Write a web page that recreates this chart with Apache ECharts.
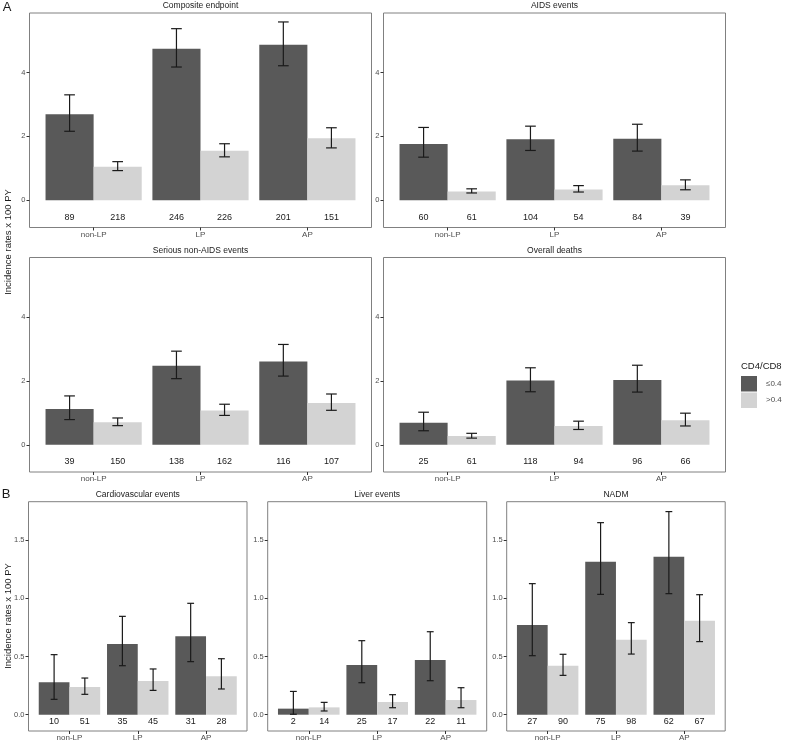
<!DOCTYPE html>
<html><head><meta charset="utf-8">
<script src="https://cdn.jsdelivr.net/npm/echarts@6/dist/echarts.min.js"></script>
<style>html,body{margin:0;padding:0;background:#fff}#c{width:786px;height:742px}</style>
</head><body><div id="c"></div>
<script>
// ---------- data ----------
const categories = ['non-LP', 'LP', 'AP'];
const groupNames = ['≤0.4', '>0.4'];
const yTicksA = [0, 2, 4];
const yTicksB = [0, 0.5, 1.0, 1.5];

// Panel A
const compositeLow = [2.69, 4.74, 4.87];
const compositeLowCI = [[2.16, 3.30], [4.17, 5.37], [4.21, 5.58]];
const compositeHigh = [1.05, 1.55, 1.94];
const compositeHighCI = [[0.93, 1.21], [1.36, 1.77], [1.64, 2.27]];
const compositeLowN = [89, 246, 201];
const compositeHighN = [218, 226, 151];

const aidsLow = [1.76, 1.91, 1.93];
const aidsLowCI = [[1.35, 2.28], [1.56, 2.32], [1.54, 2.38]];
const aidsHigh = [0.28, 0.34, 0.47];
const aidsHighCI = [[0.23, 0.36], [0.26, 0.46], [0.33, 0.64]];
const aidsLowN = [60, 104, 84];
const aidsHighN = [61, 54, 39];

const snaeLow = [1.12, 2.47, 2.61];
const snaeLowCI = [[0.79, 1.53], [2.07, 2.93], [2.15, 3.14]];
const snaeHigh = [0.71, 1.07, 1.31];
const snaeHighCI = [[0.60, 0.84], [0.92, 1.27], [1.08, 1.59]];
const snaeLowN = [39, 138, 116];
const snaeHighN = [150, 162, 107];

const deathLow = [0.69, 2.01, 2.03];
const deathLowCI = [[0.44, 1.02], [1.66, 2.41], [1.65, 2.49]];
const deathHigh = [0.28, 0.59, 0.77];
const deathHighCI = [[0.21, 0.36], [0.48, 0.74], [0.59, 0.99]];
const deathLowN = [25, 118, 96];
const deathHighN = [61, 94, 66];

// Panel B
const cvLow = [0.278, 0.607, 0.673];
const cvLowCI = [[0.132, 0.516], [0.421, 0.845], [0.456, 0.957]];
const cvHigh = [0.238, 0.289, 0.330];
const cvHighCI = [[0.175, 0.315], [0.209, 0.393], [0.221, 0.481]];
const cvLowN = [10, 35, 31];
const cvHighN = [51, 45, 28];

const liverLow = [0.052, 0.427, 0.470];
const liverLowCI = [[0.004, 0.200], [0.275, 0.636], [0.292, 0.713]];
const liverHigh = [0.063, 0.109, 0.126];
const liverHighCI = [[0.032, 0.106], [0.060, 0.172], [0.060, 0.232]];
const liverLowN = [2, 25, 22];
const liverHighN = [14, 17, 11];

const nadmLow = [0.771, 1.315, 1.358];
const nadmLowCI = [[0.507, 1.126], [1.034, 1.650], [1.040, 1.745]];
const nadmHigh = [0.421, 0.645, 0.808];
const nadmHighCI = [[0.338, 0.519], [0.521, 0.791], [0.628, 1.031]];
const nadmLowN = [27, 75, 62];
const nadmHighN = [90, 98, 67];

// ---------- layout ----------
const FONT = '"Liberation Sans", Arial, sans-serif';
const DARK = '#595959', LIGHT = '#d3d3d3';
const rowA = { min: -0.85, max: 5.86, ticks: yTicksA, labelY: -0.53, fmt: v => String(v), countFs: 9 };
const rowB = { min: -0.14, max: 1.83, ticks: yTicksB, labelY: -0.06, fmt: v => v.toFixed(1), countFs: 9 };

const panels = [
  { title: 'Composite endpoint', row: rowA, box: [29.5, 13, 342, 214.5], low: compositeLow, lowCI: compositeLowCI, high: compositeHigh, highCI: compositeHighCI, lowN: compositeLowN, highN: compositeHighN },
  { title: 'AIDS events', row: rowA, box: [383.5, 13, 342, 214.5], low: aidsLow, lowCI: aidsLowCI, high: aidsHigh, highCI: aidsHighCI, lowN: aidsLowN, highN: aidsHighN },
  { title: 'Serious non-AIDS events', row: rowA, box: [29.5, 257.5, 342, 214.5], low: snaeLow, lowCI: snaeLowCI, high: snaeHigh, highCI: snaeHighCI, lowN: snaeLowN, highN: snaeHighN },
  { title: 'Overall deaths', row: rowA, box: [383.5, 257.5, 342, 214.5], low: deathLow, lowCI: deathLowCI, high: deathHigh, highCI: deathHighCI, lowN: deathLowN, highN: deathHighN },
  { title: 'Cardiovascular events', row: rowB, box: [28.5, 501.7, 218.5, 229.3], low: cvLow, lowCI: cvLowCI, high: cvHigh, highCI: cvHighCI, lowN: cvLowN, highN: cvHighN },
  { title: 'Liver events', row: rowB, box: [267.7, 501.7, 219, 229.3], low: liverLow, lowCI: liverLowCI, high: liverHigh, highCI: liverHighCI, lowN: liverLowN, highN: liverHighN },
  { title: 'NADM', row: rowB, box: [506.7, 501.7, 218.5, 229.3], low: nadmLow, lowCI: nadmLowCI, high: nadmHigh, highCI: nadmHighCI, lowN: nadmLowN, highN: nadmHighN }
];

const DODGE = 0.225, CAP = 0.05;

function errRender(off) {
  return function (params, api) {
    const x = api.value(0) + off;
    const lo = api.value(1), hi = api.value(2);
    const a = api.coord([x, hi]), b = api.coord([x, lo]);
    const l = api.coord([x - CAP, hi])[0], r = api.coord([x + CAP, hi])[0];
    const st = { stroke: '#1a1a1a', lineWidth: 1.2 };
    return { type: 'group', children: [
      { type: 'line', shape: { x1: a[0], y1: a[1], x2: b[0], y2: b[1] }, style: st },
      { type: 'line', shape: { x1: l, y1: a[1], x2: r, y2: a[1] }, style: st },
      { type: 'line', shape: { x1: l, y1: b[1], x2: r, y2: b[1] }, style: st }
    ] };
  };
}
function countRender(off, fs) {
  return function (params, api) {
    const p = api.coord([api.value(0) + off, api.value(1)]);
    return { type: 'text', x: p[0], y: p[1], style: { text: String(api.value(2)), textAlign: 'center', textVerticalAlign: 'middle', fontSize: fs, fill: '#1a1a1a', fontFamily: FONT } };
  };
}

const grid = [], xAxis = [], yAxis = [], series = [], graphic = [];
panels.forEach((p, i) => {
  const [l, t, w, h] = p.box;
  grid.push({ left: l, top: t, width: w, height: h, show: true, borderColor: '#808080', borderWidth: 1, backgroundColor: 'transparent' });
  xAxis.push({
    type: 'value', gridIndex: i, min: 0.4, max: 3.6,
    splitLine: { show: false }, axisLine: { show: false, onZero: false },
    axisTick: { show: true, length: 3, lineStyle: { color: '#333' }, customValues: [1, 2, 3] },
    axisLabel: { customValues: [1, 2, 3], formatter: v => categories[Math.round(v) - 1], fontSize: 8, color: '#4d4d4d', margin: 3, fontFamily: FONT }
  });
  yAxis.push({
    type: 'value', gridIndex: i, min: p.row.min, max: p.row.max,
    splitLine: { show: false }, axisLine: { show: false, onZero: false },
    axisTick: { show: true, length: 3, lineStyle: { color: '#333' }, customValues: p.row.ticks },
    axisLabel: { customValues: p.row.ticks, formatter: p.row.fmt, fontSize: 7.5, color: '#4d4d4d', margin: 4, fontFamily: FONT }
  });
  series.push({ type: 'bar', name: groupNames[0], xAxisIndex: i, yAxisIndex: i, barWidth: '45%', barGap: '0%',
    itemStyle: { color: DARK }, data: p.low.map((v, j) => [j + 1, v]) });
  series.push({ type: 'bar', name: groupNames[1], xAxisIndex: i, yAxisIndex: i, barWidth: '45%', barGap: '0%',
    itemStyle: { color: LIGHT }, data: p.high.map((v, j) => [j + 1, v]) });
  series.push({ type: 'custom', xAxisIndex: i, yAxisIndex: i, renderItem: errRender(-DODGE), encode: { x: 0, y: [1, 2] },
    data: p.lowCI.map((c, j) => [j + 1, c[0], c[1]]), z: 5 });
  series.push({ type: 'custom', xAxisIndex: i, yAxisIndex: i, renderItem: errRender(DODGE), encode: { x: 0, y: [1, 2] },
    data: p.highCI.map((c, j) => [j + 1, c[0], c[1]]), z: 5 });
  series.push({ type: 'custom', xAxisIndex: i, yAxisIndex: i, renderItem: countRender(-DODGE, p.row.countFs), encode: { x: 0, y: 1 },
    data: p.lowN.map((n, j) => [j + 1, p.row.labelY, n]), z: 5 });
  series.push({ type: 'custom', xAxisIndex: i, yAxisIndex: i, renderItem: countRender(DODGE, p.row.countFs), encode: { x: 0, y: 1 },
    data: p.highN.map((n, j) => [j + 1, p.row.labelY, n]), z: 5 });
  graphic.push({ type: 'text', x: l + w / 2, y: t - 7, style: { text: p.title, textAlign: 'center', textVerticalAlign: 'middle', fontSize: 8.5, fill: '#1a1a1a', fontFamily: FONT } });
});

graphic.push({ type: 'text', x: 7, y: 7, style: { text: 'A', textAlign: 'center', textVerticalAlign: 'middle', fontSize: 13, fill: '#1a1a1a', fontFamily: FONT } });
graphic.push({ type: 'text', x: 6, y: 494, style: { text: 'B', textAlign: 'center', textVerticalAlign: 'middle', fontSize: 13, fill: '#1a1a1a', fontFamily: FONT } });
graphic.push({ type: 'text', x: 8, y: 242, rotation: Math.PI / 2, style: { text: 'Incidence rates x 100 PY', textAlign: 'center', textVerticalAlign: 'middle', fontSize: 9.5, fill: '#1a1a1a', fontFamily: FONT } });
graphic.push({ type: 'text', x: 8, y: 616, rotation: Math.PI / 2, style: { text: 'Incidence rates x 100 PY', textAlign: 'center', textVerticalAlign: 'middle', fontSize: 9.5, fill: '#1a1a1a', fontFamily: FONT } });
graphic.push({ type: 'text', x: 741, y: 366, style: { text: 'CD4/CD8', textAlign: 'left', textVerticalAlign: 'middle', fontSize: 9.5, fill: '#1a1a1a', fontFamily: FONT } });

const chart = echarts.init(document.getElementById('c'), null, { renderer: 'canvas' });
chart.setOption({
  animation: false,
  backgroundColor: '#fff',
  grid, xAxis, yAxis, series, graphic,
  legend: {
    data: groupNames, orient: 'vertical', left: 741, top: 376, padding: 0,
    itemWidth: 16, itemHeight: 15.5, itemGap: 1, icon: 'rect', selectedMode: false,
    textStyle: { fontSize: 8, color: '#4d4d4d', fontFamily: FONT, padding: [0, 0, 0, 4] }
  }
});
</script></body></html>
